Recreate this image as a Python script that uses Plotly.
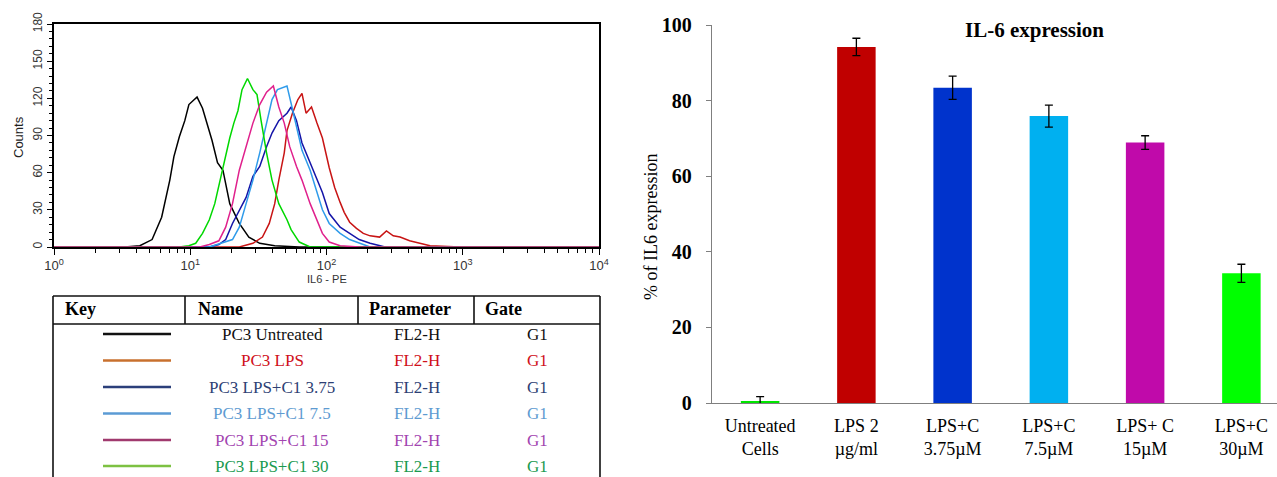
import numpy as np
import plotly.graph_objects as go

W, H = 1277, 477

# ---------------- Histogram data (x in decades = log10(IL6-PE), y = counts) ----------------
hist_names = ["PC3 Untreated", "PC3 LPS", "PC3 LPS+C1 3.75", "PC3 LPS+C1 7.5", "PC3 LPS+C1 15", "PC3 LPS+C1 30"]

untreated_dec = [0, 0.52, 0.63, 0.72, 0.79, 0.85, 0.88, 0.92, 0.96, 0.99, 1.03, 1.05, 1.09, 1.13, 1.16, 1.20, 1.24, 1.29, 1.36, 1.43, 1.51, 1.62, 1.80, 4.0]
untreated_cnt = [0, 0, 1, 6, 24, 54, 73, 89, 102, 115, 119, 121, 112, 97, 86, 68, 62, 35, 19, 8, 3, 1, 0, 0]

lps_dec = [0, 1.36, 1.46, 1.53, 1.58, 1.62, 1.65, 1.69, 1.71, 1.75, 1.79, 1.82, 1.85, 1.89, 1.93, 1.97, 2.02, 2.06, 2.10, 2.13, 2.17, 2.22, 2.27, 2.32, 2.39, 2.44, 2.49, 2.54, 2.61, 2.68, 2.76, 2.98, 4.0]
lps_cnt = [0, 0, 3, 8, 19, 35, 54, 76, 94, 108, 119, 124, 108, 113, 100, 88, 64, 48, 36, 28, 20, 15, 11, 9, 8, 13, 9, 8, 5, 3, 1, 0, 0]

c375_dec = [0, 1.14, 1.21, 1.26, 1.31, 1.36, 1.41, 1.46, 1.51, 1.56, 1.60, 1.65, 1.71, 1.74, 1.78, 1.82, 1.88, 1.93, 1.97, 2.02, 2.10, 2.17, 2.24, 2.32, 2.43, 4.0]
c375_cnt = [0, 0, 2, 6, 19, 30, 40, 57, 65, 81, 92, 102, 108, 113, 102, 84, 68, 54, 44, 27, 16, 11, 6, 3, 0, 0]

c75_dec = [0, 1.14, 1.31, 1.36, 1.41, 1.46, 1.51, 1.56, 1.60, 1.64, 1.71, 1.74, 1.78, 1.82, 1.88, 1.93, 1.97, 2.02, 2.10, 2.17, 2.24, 2.32, 4.0]
c75_cnt = [0, 0, 6, 16, 35, 54, 76, 100, 119, 127, 130, 116, 97, 78, 62, 45, 30, 19, 11, 6, 3, 0, 0]

c15_dec = [0, 1.07, 1.14, 1.21, 1.26, 1.31, 1.36, 1.41, 1.46, 1.51, 1.56, 1.61, 1.65, 1.69, 1.73, 1.78, 1.82, 1.88, 1.93, 1.97, 2.02, 2.10, 2.24, 4.0]
c15_cnt = [0, 0, 2, 5, 16, 35, 62, 82, 100, 115, 125, 130, 113, 100, 81, 65, 54, 35, 22, 11, 4, 1, 0, 0]

c30_dec = [0, 0.92, 0.99, 1.04, 1.09, 1.14, 1.18, 1.21, 1.25, 1.29, 1.32, 1.35, 1.38, 1.42, 1.46, 1.49, 1.52, 1.56, 1.60, 1.65, 1.71, 1.74, 1.80, 1.88, 4.0]
c30_cnt = [0, 0, 1, 3, 11, 22, 35, 50, 70, 88, 100, 110, 127, 136, 127, 123, 102, 76, 54, 35, 22, 14, 4, 0, 0]

hist_line_colors = ["#000000", "#C81414", "#1414A8", "#2F9BEA", "#00D800", "#E0208C"]

# ---------------- Table (key) data ----------------
table_headers = ["Key", "Name", "Parameter", "Gate"]
table_names = ["PC3 Untreated", "PC3 LPS", "PC3 LPS+C1 3.75", "PC3 LPS+C1 7.5", "PC3 LPS+C1 15", "PC3 LPS+C1 30"]
table_params = ["FL2-H"] * 6
table_gates = ["G1"] * 6
key_line_colors = ["#111111", "#C8702E", "#2B3F7A", "#5B9BD5", "#A03A6E", "#7DC142"]
key_text_colors = ["#111111", "#D0101A", "#2E3F74", "#5E9BD1", "#A244B0", "#1A9A50"]

# ---------------- Bar chart data ----------------
bar_categories = ["Untreated<br>Cells", "LPS 2<br>µg/ml", "LPS+C<br>3.75µM", "LPS+C<br>7.5µM", "LPS+ C<br>15µM", "LPS+C<br>30µM"]
bar_values = [0.4, 94.2, 83.4, 75.9, 68.9, 34.3]
bar_errors = [1.3, 2.3, 3.1, 2.9, 1.8, 2.4]
bar_colors = ["#00E600", "#C00000", "#0033CC", "#00B0F0", "#C00AAA", "#00FF00"]


def px_x(px):
    return px / W


def px_y(py):
    return 1 - py / H


fig = go.Figure()

hist_series = [
    (untreated_dec, untreated_cnt, hist_line_colors[0]),
    (lps_dec, lps_cnt, hist_line_colors[1]),
    (c375_dec, c375_cnt, hist_line_colors[2]),
    (c75_dec, c75_cnt, hist_line_colors[3]),
    (c30_dec, c30_cnt, hist_line_colors[4]),
    (c15_dec, c15_cnt, hist_line_colors[5]),
]
for dec, cnt, col in hist_series:
    fig.add_trace(go.Scatter(
        x=10 ** np.array(dec, dtype=float), y=cnt, mode="lines",
        line=dict(color=col, width=1.5), xaxis="x", yaxis="y", showlegend=False,
        hoverinfo="skip"))

fig.add_trace(go.Bar(
    x=bar_categories, y=bar_values, marker=dict(color=bar_colors, line=dict(width=0)),
    width=0.4,
    error_y=dict(type="data", array=bar_errors, color="#000000", thickness=1.3, width=4),
    xaxis="x2", yaxis="y2", showlegend=False))

minor_log = [k * 10 ** e for e in range(0, 4) for k in range(2, 10)]

fig.update_layout(
    width=W, height=H, autosize=False,
    margin=dict(l=0, r=0, t=0, b=0, autoexpand=False),
    paper_bgcolor="white", plot_bgcolor="white",
    xaxis=dict(
        type="log", range=[0, 4], domain=[px_x(54), px_x(599)], anchor="y", automargin=False,
        tickvals=[1, 10, 100, 1000, 10000],
        ticktext=["10<sup>0</sup>", "10<sup>1</sup>", "10<sup>2</sup>", "10<sup>3</sup>", "10<sup>4</sup>"],
        ticks="outside", ticklen=6, tickwidth=1.3, tickcolor="#000",
        minor=dict(tickvals=minor_log, ticks="outside", ticklen=4, tickwidth=1.1, tickcolor="#000"),
        showline=True, linecolor="#000", linewidth=1.6, mirror=True,
        showgrid=False, zeroline=False,
        tickfont=dict(family="Liberation Sans, Arial", size=13, color="#333"),
    ),
    yaxis=dict(
        range=[0, 180], domain=[px_y(247), px_y(24)], anchor="x", automargin=False,
        tickvals=[0, 30, 60, 90, 120, 150, 180], tickangle=-90,
        ticks="outside", ticklen=5, tickwidth=1.3, tickcolor="#000",
        minor=dict(dtick=6, ticks="outside", ticklen=3, tickwidth=1, tickcolor="#000"),
        showline=True, linecolor="#000", linewidth=1.6, mirror=True,
        showgrid=False, zeroline=False,
        tickfont=dict(family="Liberation Sans, Arial", size=12, color="#333"),
    ),
    xaxis2=dict(
        type="category", domain=[px_x(712), 1.0], anchor="y2", range=[-0.5, 5.37], automargin=False,
        showline=True, linecolor="#7F7F7F", linewidth=1.3, ticks="",
        showgrid=False, zeroline=False, ticklabelstandoff=6,
        tickfont=dict(family="Liberation Serif, Times New Roman", size=18, color="#000"),
    ),
    yaxis2=dict(
        range=[0, 100], domain=[px_y(403), px_y(25)], anchor="x2", automargin=False,
        tickvals=[0, 20, 40, 60, 80, 100],
        ticks="outside", ticklen=5, tickwidth=1.3, tickcolor="#7F7F7F",
        showline=True, linecolor="#7F7F7F", linewidth=1.3,
        showgrid=False, zeroline=False, ticklabelstandoff=10,
        tickfont=dict(family="Liberation Serif, Times New Roman", size=20, color="#000", weight="bold"),
    ),
)


def ann(text, x, y, size, color="#000", family="Liberation Serif, Times New Roman", xanchor="center", angle=0):
    return dict(text=text, x=px_x(x), y=px_y(y), xref="paper", yref="paper",
                xanchor=xanchor, yanchor="middle", textangle=angle, showarrow=False,
                font=dict(family=family, size=size, color=color))


annotations = [
    ann("Counts", 18, 137, 13, "#222", "Liberation Sans, Arial", angle=-90),
    ann("IL6 - PE", 327, 279, 11, "#333", "Liberation Sans, Arial"),
    ann("<b>IL-6 expression</b>", 1034, 30, 21),
    ann("% of IL6 expression", 651, 227, 18, angle=-90),
]

header_left_px = [63, 196, 367, 483]
for txt, lx in zip(table_headers, header_left_px):
    annotations.append(ann(f"<b>{txt}</b>", lx, 309, 18, xanchor="left"))

row_y_px = [334, 360.5, 387, 413.5, 440, 466]
shapes = []
for i, ry in enumerate(row_y_px):
    shapes.append(dict(type="line", xref="paper", yref="paper", x0=px_x(103), x1=px_x(171),
                       y0=px_y(ry), y1=px_y(ry), line=dict(color=key_line_colors[i], width=2.5)))
    for txt, cx in ((table_names[i], 272), (table_params[i], 417), (table_gates[i], 537)):
        annotations.append(ann(txt, cx, ry, 17, key_text_colors[i]))

frame = [
    (53, 296, 600, 296), (53, 324, 600, 324),
    (53, 296, 53, 477), (600, 296, 600, 477),
    (185, 296, 185, 324), (358, 296, 358, 324), (474, 296, 474, 324),
]
for x0, y0, x1, y1 in frame:
    shapes.append(dict(type="line", xref="paper", yref="paper", x0=px_x(x0), x1=px_x(x1),
                       y0=px_y(y0), y1=px_y(y1), line=dict(color="#111", width=1.6)))

fig.update_layout(annotations=annotations, shapes=shapes)
fig.write_html("out.html", config={"displayModeBar": False},
               post_script="document.body.style.margin='0';document.body.style.padding='0';"
                           "document.body.style.overflow='hidden';")
